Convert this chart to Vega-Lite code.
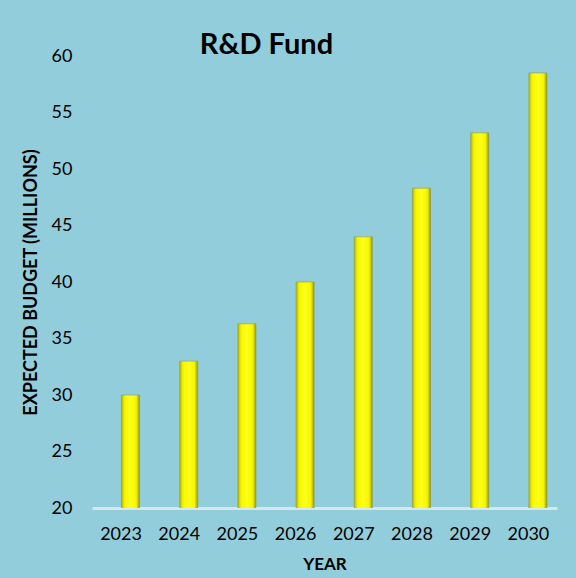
{
  "$schema": "https://vega.github.io/schema/vega-lite/v6.json",
  "width": 465,
  "height": 452,
  "autosize": {"type": "none"},
  "padding": {"left": 92, "top": 56, "right": 19, "bottom": 70},
  "background": "#92CDDC",
  "title": {
    "text": "R&D Fund",
    "font": "Lato",
    "fontSize": 29,
    "fontWeight": "bold",
    "color": "#000000",
    "anchor": "middle",
    "dx": -58,
    "dy": 14,
    "offset": 1
  },
  "data": {
    "values": [
      {"year": "2023", "budget": 30.0},
      {"year": "2024", "budget": 33.0},
      {"year": "2025", "budget": 36.3},
      {"year": "2026", "budget": 40.0},
      {"year": "2027", "budget": 44.0},
      {"year": "2028", "budget": 48.3},
      {"year": "2029", "budget": 53.2},
      {"year": "2030", "budget": 58.5}
    ]
  },
  "mark": {
    "type": "bar",
    "clip": true,
    "color": {
      "gradient": "linear",
      "x1": 0, "y1": 0, "x2": 1, "y2": 0,
      "stops": [
        {"offset": 0, "color": "#b5b500"},
        {"offset": 0.18, "color": "#f5f500"},
        {"offset": 0.5, "color": "#ffff1a"},
        {"offset": 0.82, "color": "#f5f500"},
        {"offset": 1, "color": "#9a9a00"}
      ]
    },
    "stroke": "#8f9a4a",
    "strokeWidth": 0.6
  },
  "encoding": {
    "x": {
      "field": "year",
      "type": "nominal",
      "sort": null,
      "scale": {"paddingInner": 0.69, "paddingOuter": 0.34, "align": 0.745},
      "axis": {
        "title": "YEAR",
        "titleFont": "Lato",
        "titleFontSize": 17,
        "titleFontWeight": "bold",
        "titleColor": "#000000",
        "titlePadding": 13,
        "labelFont": "Lato",
        "labelFontSize": 18,
        "labelColor": "#000000",
        "labelAngle": 0,
        "labelPadding": 17,
        "labelOffset": -9.5,
        "ticks": false,
        "domain": true,
        "domainColor": "#d4e8ee",
        "domainWidth": 3
      }
    },
    "y": {
      "field": "budget",
      "type": "quantitative",
      "scale": {"domain": [20, 60], "zero": false, "nice": false},
      "axis": {
        "title": "EXPECTED BUDGET (MILLIONS)",
        "titleFont": "Lato",
        "titleFontSize": 18,
        "titleFontWeight": "bold",
        "titleColor": "#000000",
        "titlePadding": 11,
        "values": [20, 25, 30, 35, 40, 45, 50, 55, 60],
        "labelFont": "Lato",
        "labelFontSize": 18,
        "labelColor": "#000000",
        "labelPadding": 20,
        "ticks": false,
        "domain": false,
        "grid": false
      }
    }
  },
  "config": {
    "view": {"stroke": null}
  }
}
